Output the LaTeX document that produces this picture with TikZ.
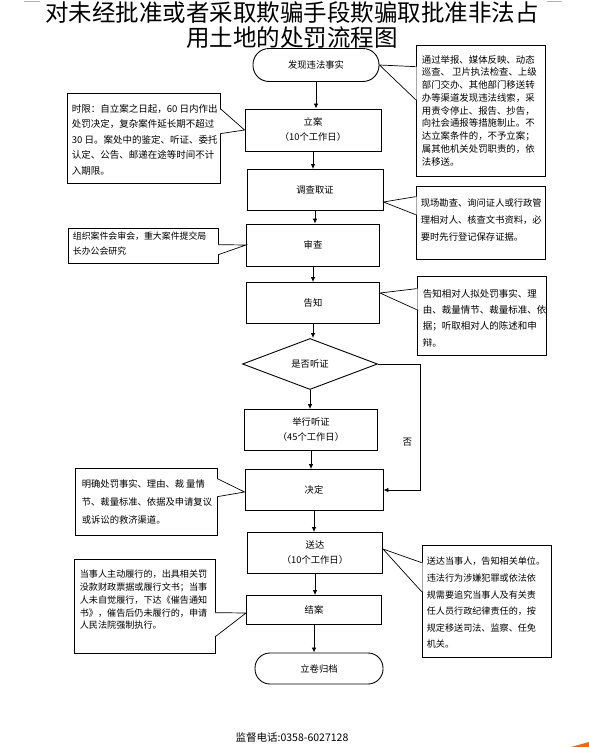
\documentclass[tikz,border=0pt]{standalone}
\usepackage{fontspec}
\setmainfont{Noto Sans CJK SC}
\usepackage{tikz}
\usetikzlibrary{shapes.geometric,arrows.meta,calc}

\begin{document}
\begin{tikzpicture}[x=1pt,y=-1pt,
  box/.style={draw,line width=0.9pt,inner sep=0pt,align=center,font=\fontsize{9.3}{15}\selectfont},
  term/.style={box,rounded corners=15pt},
  note/.style={draw,line width=0.7pt,inner sep=0pt},
  notetext/.style={anchor=north west,inner sep=0pt,align=left},
  arr/.style={-{Latex[length=5pt,width=4.5pt]},line width=0.8pt},
  ptr/.style={line width=0.7pt}]

\useasboundingbox (0,0) rectangle (589,747);

% title
\node[align=center,font=\fontsize{23.5}{25}\selectfont] (title) at (292,25.5) {对未经批准或者采取欺骗手段欺骗取批准非法占\\用土地的处罚流程图};
\draw[gray!60,line width=0.8pt] (24,1) -- (40,1);
\draw[gray!60,line width=0.8pt] (547,1) -- (562,1);

% main flow
\node[term,minimum width=126pt,minimum height=33pt,rounded corners=16pt] (start) at (316,65) {发现违法事实};
\node[box,minimum width=136pt,minimum height=42pt] (lian) at (313,130) {立案\\（10个工作日）};
\node[box,minimum width=136pt,minimum height=41pt] (diaocha) at (315,190) {调查取证};
\node[box,minimum width=133pt,minimum height=42pt] (shencha) at (313,245) {审查};
\node[box,minimum width=133pt,minimum height=41pt] (gaozhi) at (313,303) {告知};
\node[box,diamond,minimum width=135pt,minimum height=51pt] (ask) at (310,364) {是否听证};
\node[box,minimum width=133pt,minimum height=41pt] (tingzheng) at (311,430) {举行听证\\（45个工作日）};
\node[box,minimum width=138pt,minimum height=41pt] (jueding) at (314,490) {决定};
\node[box,minimum width=135pt,minimum height=41pt] (songda) at (315,553) {送达\\（10个工作日）};
\node[box,minimum width=135pt,minimum height=29pt] (jiean) at (314,610) {结案};
\node[term,minimum width=128pt,minimum height=31pt] (guidang) at (319,668.5) {立卷归档};

\draw[arr] (start.south) -- (start.south |- lian.north);
\draw[arr] (lian.south) -- (lian.south |- diaocha.north);
\draw[arr] (diaocha.south) -- (diaocha.south |- shencha.north);
\draw[arr] (shencha.south) -- (shencha.south |- gaozhi.north);
\draw[arr] (gaozhi.south) -- (gaozhi.south |- ask.north);
\draw[arr] (ask.south) -- (ask.south |- tingzheng.north);
\draw[arr] (tingzheng.south) -- (tingzheng.south |- jueding.north);
\draw[arr] (jueding.south) -- (jueding.south |- songda.north);
\draw[arr] (songda.south) -- (songda.south |- jiean.north);
\draw[arr] (jiean.south) -- (jiean.south |- guidang.north);
\draw[arr] (ask.east) -- ++(42,0) |- node[pos=0.31,left=4pt,font=\fontsize{9.5}{10}\selectfont] (no) {否} (jueding.east);

% notes
\node[note,minimum width=129pt,minimum height=131pt] (n1) at (480.5,110.5) {};
\node[notetext,font=\fontsize{9.4}{12.75}\selectfont] (n1t) at ($(n1.north west)+(6,10.3)$) {通过举报、媒体反映、动态\\巡查、 卫片执法检查、上级\\部门交办、其他部门移送转\\办等渠道发现违法线索，采\\用责令停止、报告、抄告，\\向社会通报等措施制止。不\\达立案条件的，不予立案；\\属其他机关处罚职责的，依\\法移送。};

\node[note,minimum width=153pt,minimum height=90pt] (n0) at (143.5,138) {};
\node[notetext,font=\fontsize{9.5}{15.5}\selectfont] (n0t) at ($(n0.north west)+(5,11.3)$) {时限：自立案之日起，60 日内作出\\处罚决定，复杂案件延长期不超过\\30 日。案处中的鉴定、听证、委托\\认定、公告、邮递在途等时间不计\\入期限。};

\node[note,minimum width=129pt,minimum height=73pt] (n2) at (480.5,222.5) {};
\node[notetext,font=\fontsize{9.3}{17}\selectfont] (n2t) at ($(n2.north west)+(5,12.3)$) {现场勘查、询问证人或行政管\\理相对人、核查文书资料，必\\要时先行登记保存证据。};

\node[note,minimum width=150pt,minimum height=35pt] (n3) at (143,245.5) {};
\node[notetext,font=\fontsize{8.9}{15}\selectfont] (n3t) at ($(n3.north west)+(5,4.3)$) {组织案件会审会，重大案件提交局\\长办公会研究};

\node[note,minimum width=129pt,minimum height=79pt] (n4) at (481.5,315.5) {};
\node[notetext,font=\fontsize{9.5}{16.3}\selectfont] (n4t) at ($(n4.north west)+(6,13.3)$) {告知相对人拟处罚事实、理\\由、裁量情节、裁量标准、依\\据；听取相对人的陈述和申\\辩。};

\node[note,minimum width=142pt,minimum height=67pt] (n5) at (146,501.5) {};
\node[notetext,font=\fontsize{9.3}{18}\selectfont] (n5t) at ($(n5.north west)+(7,11.3)$) {明确处罚事实、理由、裁 量情\\节、裁量标准、依据及申请复议\\或诉讼的救济渠道。};

\node[note,minimum width=129pt,minimum height=112pt] (n6) at (486.5,601) {};
\node[notetext,font=\fontsize{9.1}{16.6}\selectfont] (n6t) at ($(n6.north west)+(5,12.3)$) {送达当事人，告知相关单位。\\违法行为涉嫌犯罪或依法依\\规需要追究当事人及有关责\\任人员行政纪律责任的，按\\规定移送司法、监察、任免\\机关。};

\node[note,minimum width=141pt,minimum height=94pt] (n7) at (144.5,606) {};
\node[notetext,font=\fontsize{9.1}{12.75}\selectfont] (n7t) at ($(n7.north west)+(6,11.3)$) {当事人主动履行的，出具相关罚\\没款财政票据或履行文书；当事\\人未自觉履行，下达《催告通知\\书》，催告后仍未履行的，申请\\人民法院强制执行。};

% callout pointers
\fill[white] ($(n1.north west)+(1,22)$) -- (start.east) -- ($(n1.north west)+(1,55)$) -- cycle;
\draw[ptr] ($(n1.north west)+(0,22)$) -- (start.east) -- ($(n1.north west)+(0,55)$);

\fill[white] ($(n0.north east)+(-1,16)$) -- (lian.west) -- ($(n0.north east)+(-1,41)$) -- cycle;
\draw[ptr] ($(n0.north east)+(0,16)$) -- (lian.west) -- ($(n0.north east)+(0,41)$);

\fill[white] ($(n2.north west)+(1,11)$) -- ($(diaocha.east)+(0,12)$) -- ($(n2.north west)+(1,29)$) -- cycle;
\draw[ptr] ($(n2.north west)+(0,11)$) -- ($(diaocha.east)+(0,12)$) -- ($(n2.north west)+(0,29)$);

\fill[white] ($(n3.north east)+(-1,17)$) -- (shencha.west) -- ($(n3.north east)+(-1,27)$) -- cycle;
\draw[ptr] ($(n3.north east)+(0,17)$) -- (shencha.west) -- ($(n3.north east)+(0,27)$);

\fill[white] ($(n4.north west)+(1,13)$) -- ($(gaozhi.east)+(0,-10)$) -- ($(n4.north west)+(1,34)$) -- cycle;
\draw[ptr] ($(n4.north west)+(0,13)$) -- ($(gaozhi.east)+(0,-10)$) -- ($(n4.north west)+(0,34)$);

\fill[white] ($(n5.north east)+(-1,11)$) -- ($(jueding.west)+(0,2)$) -- ($(n5.north east)+(-1,29)$) -- cycle;
\draw[ptr] ($(n5.north east)+(0,11)$) -- ($(jueding.west)+(0,2)$) -- ($(n5.north east)+(0,29)$);

\fill[white] ($(n6.north west)+(1,18)$) -- ($(songda.east)+(0,-4)$) -- ($(n6.north west)+(1,47)$) -- cycle;
\draw[ptr] ($(n6.north west)+(0,18)$) -- ($(songda.east)+(0,-4)$) -- ($(n6.north west)+(0,47)$);

\fill[white] ($(n7.north east)+(-1,54)$) -- ($(jiean.west)+(0,3)$) -- ($(n7.north east)+(-1,78)$) -- cycle;
\draw[ptr] ($(n7.north east)+(0,54)$) -- ($(jiean.west)+(0,3)$) -- ($(n7.north east)+(0,78)$);

% footer
\node[font=\fontsize{10.5}{12}\selectfont] (tel) at (292,737) {监督电话:0358-6027128};
\fill[orange!80!red] (571,747) -- (589,742) -- (589,747) -- cycle;

\end{tikzpicture}
\end{document}
